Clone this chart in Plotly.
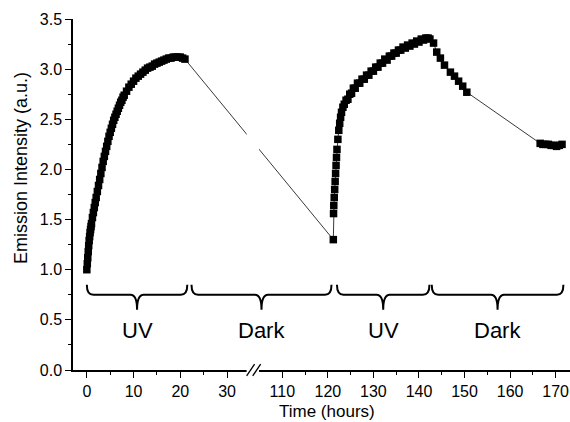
import plotly.graph_objects as go

# ---------------- data ----------------
uv1_time = [0.0, 0.1, 0.2, 0.3, 0.4, 0.5, 0.6, 0.7, 0.8, 0.9, 1.0, 1.2, 1.4, 1.6, 1.8, 2.0,
            2.25, 2.5, 2.75, 3.0, 3.25, 3.5, 3.75, 4.0, 4.25, 4.5, 4.75, 5.0, 5.25, 5.5, 5.75,
            6.0, 6.25, 6.5, 6.75, 7.0, 7.25, 7.5, 7.75, 8.0, 8.5, 9.0, 9.5, 10.0, 10.5, 11.0,
            11.5, 12.0, 12.5, 13.0, 13.5, 14.0, 14.5, 15.0, 15.5, 16.0, 16.5, 17.0, 17.5, 18.0,
            18.5, 19.0, 19.5, 20.0, 20.5, 21.0]
uv1_int = [1.00, 1.06, 1.12, 1.18, 1.24, 1.29, 1.33, 1.37, 1.40, 1.43, 1.46, 1.52, 1.57, 1.62, 1.67, 1.72,
           1.78, 1.84, 1.90, 1.96, 2.02, 2.08, 2.13, 2.18, 2.23, 2.28, 2.33, 2.37, 2.41, 2.45, 2.49,
           2.52, 2.55, 2.58, 2.61, 2.64, 2.67, 2.69, 2.72, 2.74, 2.78, 2.82, 2.85, 2.88, 2.91, 2.93,
           2.95, 2.97, 2.99, 3.01, 3.02, 3.03, 3.05, 3.06, 3.07, 3.08, 3.09, 3.10, 3.11, 3.11,
           3.12, 3.12, 3.12, 3.12, 3.11, 3.10]

dark1_time = [121.2]
dark1_int = [1.30]

uv2_time = [121.25, 121.3, 121.4, 121.5, 121.6, 121.7, 121.8, 121.9, 122.0, 122.2, 122.4, 122.6,
            122.8, 123.0, 123.3, 123.6, 124.0, 124.4, 124.8, 125.2, 125.6, 126.0, 126.5, 127.0,
            127.5, 128.0, 128.5, 129.0, 129.5, 130.0, 130.5, 131.0, 131.5, 132.0, 132.5, 133.0,
            133.5, 134.0, 134.5, 135.0, 135.5, 136.0, 136.5, 137.0, 137.5, 138.0, 138.5, 139.0,
            139.5, 140.0, 140.5, 141.0, 141.5, 142.0, 142.4]
uv2_int = [1.56, 1.64, 1.72, 1.80, 1.88, 1.96, 2.04, 2.12, 2.20, 2.30, 2.39, 2.46,
           2.52, 2.57, 2.62, 2.65, 2.69, 2.70, 2.75, 2.76, 2.81, 2.81, 2.86, 2.86,
           2.90, 2.90, 2.94, 2.94, 2.98, 2.98, 3.02, 3.02, 3.06, 3.06, 3.10, 3.09,
           3.13, 3.13, 3.16, 3.16, 3.19, 3.19, 3.22, 3.21, 3.24, 3.23, 3.26, 3.25,
           3.28, 3.27, 3.30, 3.29, 3.31, 3.31, 3.30]

dark2_time = [143.2, 143.9, 144.7, 145.6, 146.9, 147.8, 148.7, 149.6, 150.5,
              166.6, 167.2, 167.8, 168.4, 169.0, 169.6, 170.2, 170.8, 171.4]
dark2_int = [3.26, 3.17, 3.11, 3.04, 2.97, 2.93, 2.88, 2.83, 2.77,
             2.26, 2.25, 2.25, 2.25, 2.24, 2.24, 2.23, 2.24, 2.25]

x_major_left = [0, 10, 20, 30]
x_major_right = [110, 120, 130, 140, 150, 160, 170]
x_minor_left = [5, 15, 25]
x_minor_right = [115, 125, 135, 145, 155, 165]

periods = ["UV", "Dark", "UV", "Dark"]
period_start = [0.0, 22.4, 122.0, 142.8]
period_end = [21.5, 120.8, 142.3, 171.7]

# ---------------- broken-axis transform ----------------
def tx(h):
    """Map hours onto a continuous axis with the 35-105 h gap removed."""
    if h < 70:
        return h
    return 41.83 + (h - 110) * 0.975

time_all = uv1_time + dark1_time + uv2_time + dark2_time
int_all = uv1_int + dark1_int + uv2_int + dark2_int

FONT = "Liberation Sans, Arial, Helvetica, sans-serif"

fig = go.Figure()
fig.add_trace(go.Scatter(
    x=[tx(t) for t in time_all], y=int_all,
    mode="lines+markers",
    line=dict(color="#222222", width=0.9),
    marker=dict(symbol="square", size=7.5, color="black", line=dict(width=0)),
    showlegend=False, hoverinfo="skip",
))

def brace_path(x0, x1, ytop=0.85, ymid=0.75, ytip=0.60, w=1.4):
    xc = (x0 + x1) / 2
    return (f"M {x0},{ytop} Q {x0},{ymid} {x0 + w},{ymid} "
            f"L {xc - w},{ymid} Q {xc},{ymid} {xc},{ytip} "
            f"Q {xc},{ymid} {xc + w},{ymid} "
            f"L {x1 - w},{ymid} Q {x1},{ymid} {x1},{ytop}")

shapes = []
annotations = []

# axis break: white gap (drawn first so braces stay on top) + "//" marks
shapes.append(dict(type="rect", xref="x", yref="paper", x0=tx(34.2), x1=tx(104.9),
                   y0=-0.012, y1=1.0, fillcolor="white", line=dict(width=0), layer="above"))
for xa, xb in [(34.2, 35.9), (35.5, 37.2)]:
    shapes.append(dict(type="line", xref="x", yref="paper", x0=xa, x1=xb,
                       y0=-0.017, y1=0.017, line=dict(color="black", width=1.3), layer="above"))

for name, s, e in zip(periods, period_start, period_end):
    a, b = tx(s), tx(e)
    shapes.append(dict(type="path", xref="x", yref="y", path=brace_path(a, b),
                       line=dict(color="black", width=2), layer="above"))
    annotations.append(dict(x=(a + b) / 2, y=0.39, xref="x", yref="y", text=name,
                            showarrow=False, font=dict(family=FONT, size=22, color="black"),
                            xanchor="center", yanchor="middle"))

annotations.append(dict(text="Emission Intensity (a.u.)", textangle=-90, xref="paper", yref="paper",
                        x=-0.105, y=0.575, xanchor="center", yanchor="middle", showarrow=False,
                        font=dict(family=FONT, size=18, color="black")))
annotations.append(dict(text="Time (hours)", xref="paper", yref="paper",
                        x=0.512, y=-0.117, xanchor="center", yanchor="middle", showarrow=False,
                        font=dict(family=FONT, size=17, color="black")))

xmajor = x_major_left + x_major_right
xminor = x_minor_left + x_minor_right

fig.update_layout(
    width=570, height=422,
    margin=dict(l=73, r=0, t=19, b=52),
    paper_bgcolor="white", plot_bgcolor="white",
    font=dict(family=FONT, size=16, color="black"),
    shapes=shapes, annotations=annotations,
    xaxis=dict(
        range=[-2.96, 103.4], showgrid=False, zeroline=False,
        showline=True, linecolor="black", linewidth=1.5,
        tickmode="array", tickvals=[tx(v) for v in xmajor], ticktext=[str(v) for v in xmajor],
        ticks="outside", ticklen=6, tickwidth=1.3, tickcolor="black",
        tickfont=dict(family=FONT, size=16, color="black"),
        minor=dict(tickmode="array", tickvals=[tx(v) for v in xminor], ticks="outside",
                   ticklen=3, tickwidth=1.1, tickcolor="black", showgrid=False),
    ),
    yaxis=dict(
        range=[0, 3.5], showgrid=False, zeroline=False,
        showline=True, linecolor="black", linewidth=1.5,
        tickmode="linear", tick0=0, dtick=0.5, tickformat=".1f",
        ticks="outside", ticklen=6, tickwidth=1.3, tickcolor="black",
        tickfont=dict(family=FONT, size=16, color="black"),
        minor=dict(dtick=0.25, ticks="outside", ticklen=3, tickwidth=1.1, tickcolor="black",
                   showgrid=False),
    ),
)

fig.write_html("out.html", config={"displayModeBar": False},
               post_script="document.body.style.margin='0';document.body.style.padding='0';"
                           "document.documentElement.style.overflow='hidden';")
